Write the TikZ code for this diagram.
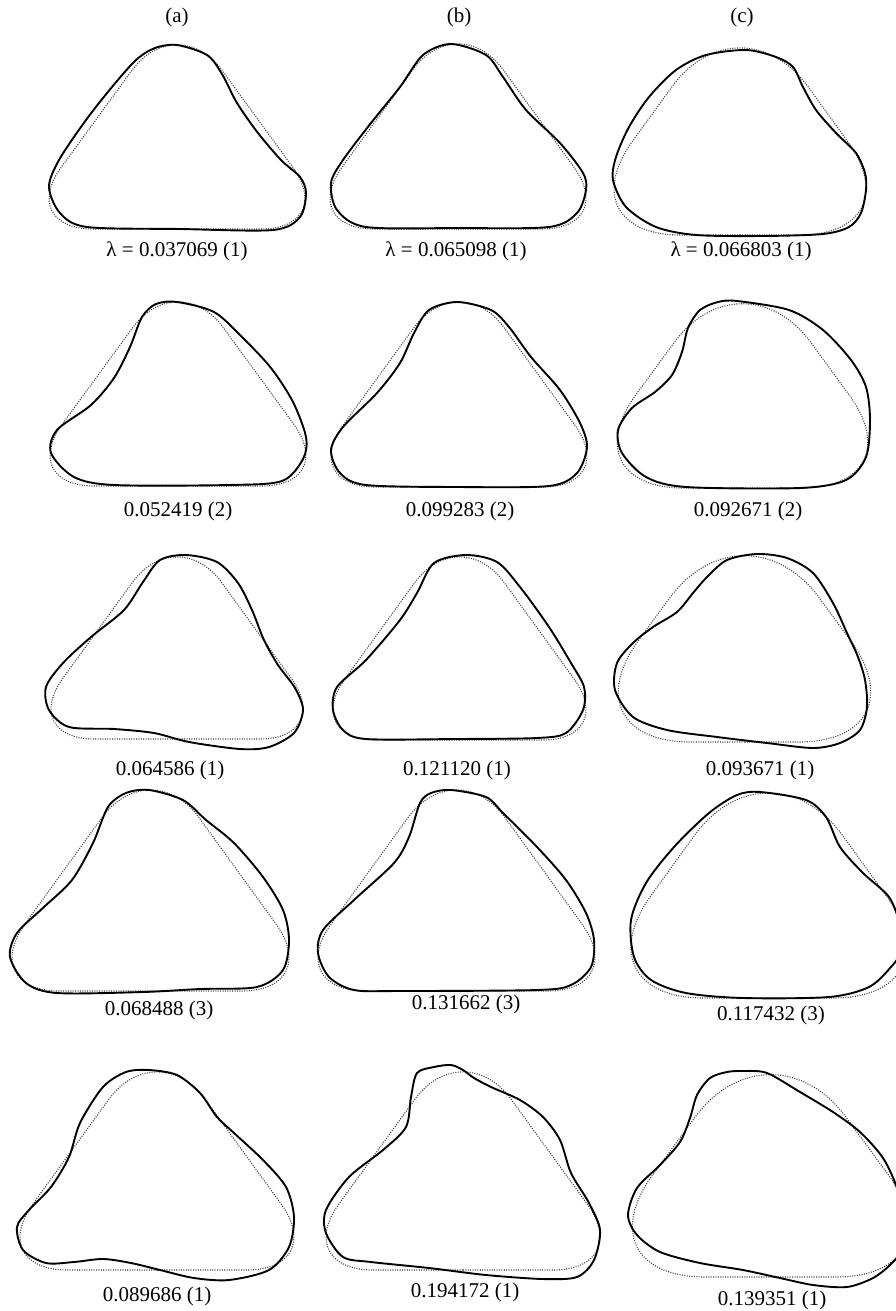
\documentclass[tikz,border=0pt]{standalone}
\usepackage{fontspec}
\setmainfont{Liberation Serif}
\tikzset{
  refline/.style={draw=black!75, line width=1.1pt, dash pattern=on 1pt off 1.4pt},
  solidline/.style={draw=black, line width=1.9pt},
  lab/.style={font=\fontsize{21}{24}\selectfont, inner sep=0pt}
}
% #1 L, #2 R, #3 T, #4 B, #5 rounding fraction
\newcommand\reftri[5]{%
  \pgfmathsetmacro\tw{#2-#1}%
  \pgfmathsetmacro\trc{#5*\tw}%
  \pgfmathsetmacro\txb{#1-0.427*\trc}%
  \pgfmathsetmacro\txc{#2+0.427*\trc}%
  \pgfmathsetmacro\tya{#3-0.475*\trc}%
  \pgfmathsetmacro\txm{(#1+#2)/2}%
  \draw[refline, rounded corners=\trc pt] (\txm,#4) -- (\txc,#4) -- (\txm,\tya) -- (\txb,#4) -- (\txm,#4);
}
\begin{document}
\begin{tikzpicture}[x=1pt,y=-1pt]
\useasboundingbox (0,0) rectangle (896,1311);
\clip (0,0) rectangle (896,1311);
% headers
\node[lab] (ha) at (177,17) {(a)};
\node[lab] (hb) at (459,17) {(b)};
\node[lab] (hc) at (742,17) {(c)};
% ---------------- row 1
\reftri{49}{305}{45}{229}{0.30}
\draw[solidline] plot[smooth cycle] coordinates {(177,45) (207,55) (222,74) (237,103) (258,133) (281,160) (300,177) (306,193) (300,217) (273,230) (180,229) (87,227) (60,213) (49,187) (59,160) (86,120) (112,87) (136,60) (155,48)};
\node[lab] (l1a) at (177,251) {λ = 0.037069 (1)};
\reftri{330}{586}{44}{229}{0.30}
\draw[solidline] plot[smooth cycle] coordinates {(451,44) (486,55) (503,77) (526,110) (560,143) (583,173) (586,190) (577,213) (549,227) (457,228) (366,227) (337,210) (331,183) (343,160) (371,123) (400,87) (423,55)};
\node[lab] (l1b) at (456,251) {λ = 0.065098 (1)};
\reftri{614}{866}{48}{235}{0.46}
\draw[solidline] plot[smooth cycle] coordinates {(746,50) (776,57) (793,67) (803,87) (816,110) (836,133) (856,153) (865,173) (866,190) (861,213) (849,227) (823,234) (763,236) (696,235) (656,227) (626,207) (613,180) (616,157) (629,127) (649,97) (676,70) (706,55)};
\node[lab] (l1c) at (741,251) {λ = 0.066803 (1)};
% ---------------- row 2
\reftri{50}{306}{302}{486}{0.30}
\draw[solidline] plot[smooth cycle] coordinates {(177,302) (214,312) (242,337) (271,368) (293,402) (306,437) (303,459) (282,481) (229,485) (114,485) (74,477) (51,453) (57,430) (91,405) (114,378) (130,347) (142,317) (156,304)};
\node[lab] (l2a) at (178,511) {0.052419 (2)};
\reftri{331}{587}{302}{487}{0.30}
\draw[solidline] plot[smooth cycle] coordinates {(457,302) (491,310) (509,327) (531,357) (560,390) (580,423) (587,447) (577,473) (549,486) (457,487) (366,485) (340,473) (331,450) (343,427) (377,393) (400,363) (414,333) (429,310)};
\node[lab] (l2b) at (460,511) {0.099283 (2)};
\reftri{617}{868}{304}{488}{0.46}
\draw[solidline] plot[smooth cycle] coordinates {(737,301) (789,310) (823,330) (851,360) (866,387) (870,420) (866,457) (846,480) (800,488) (686,487) (646,477) (622,453) (618,430) (632,408) (655,392) (672,375) (682,352) (688,328) (700,310) (718,302)};
\node[lab] (l2c) at (748,511) {0.092671 (2)};
% ---------------- row 3
\reftri{51}{303}{557}{739}{0.30}
\draw[solidline] plot[smooth cycle] coordinates {(186,555) (217,562) (238,583) (252,610) (264,640) (278,665) (295,688) (303,710) (294,733) (269,747) (240,749) (189,742) (154,733) (114,729) (69,727) (49,710) (46,687) (63,663) (91,637) (124,610) (143,582) (160,560)};
\node[lab] (l3a) at (170,770) {0.064586 (1)};
\reftri{333}{586}{557}{740}{0.30}
\draw[solidline] plot[smooth cycle] coordinates {(466,555) (497,562) (520,587) (549,627) (571,663) (584,687) (583,710) (566,733) (537,738) (457,739) (366,739) (343,730) (333,710) (337,687) (366,660) (400,620) (417,593) (434,563)};
\node[lab] (l3b) at (457,770) {0.121120 (1)};
\reftri{618}{871}{556}{742}{0.50}
\draw[solidline] plot[smooth cycle] coordinates {(757,554) (787,558) (813,573) (833,603) (847,633) (858,657) (865,680) (867,707) (860,730) (840,743) (813,748) (767,743) (717,737) (667,730) (633,717) (615,690) (617,663) (633,643) (653,627) (677,612) (693,593) (707,577) (727,560)};
\node[lab] (l3c) at (760,770) {0.093671 (1)};
% ---------------- row 4
\reftri{12}{289}{790}{991}{0.30}
\draw[solidline] plot[smooth cycle] coordinates {(149,790) (183,800) (206,820) (234,843) (263,877) (283,910) (289,940) (283,970) (257,987) (200,989) (143,992) (57,993) (26,983) (10,957) (17,933) (44,907) (72,880) (93,843) (108,807) (126,793)};
\node[lab] (l4a) at (159,1010) {0.068488 (3)};
\reftri{318}{595}{790}{991}{0.30}
\draw[solidline] plot[smooth cycle] coordinates {(451,790) (486,797) (503,813) (537,847) (566,880) (586,913) (594,940) (591,967) (571,985) (537,990) (400,991) (354,990) (329,977) (318,953) (323,930) (354,900) (394,863) (409,837) (420,803) (431,793)};
\node[lab] (l4b) at (466,1004) {0.131662 (3)};
\reftri{631}{906}{793}{998}{0.46}
\draw[solidline] plot[smooth cycle] coordinates {(760,792) (806,800) (826,817) (840,847) (863,873) (889,897) (900,925) (902,950) (891,967) (869,987) (829,997) (743,998) (686,993) (651,980) (634,957) (631,920) (646,883) (674,847) (709,813) (737,795)};
\node[lab] (l4c) at (771,1015) {0.117432 (3)};
% ---------------- row 5
\reftri{20}{294}{1072}{1270}{0.30}
\draw[solidline] plot[smooth cycle] coordinates {(149,1070) (177,1075) (200,1093) (217,1117) (234,1133) (263,1160) (286,1187) (294,1217) (289,1247) (269,1270) (229,1280) (194,1278) (160,1270) (131,1263) (103,1259) (74,1262) (46,1263) (23,1250) (17,1227) (29,1210) (51,1187) (69,1157) (80,1123) (103,1087) (126,1072)};
\node[lab] (l5a) at (157,1296) {0.089686 (1)};
\reftri{326}{600}{1072}{1270}{0.30}
\draw[solidline] plot[smooth cycle] coordinates {(434,1067) (451,1065) (463,1070) (474,1078) (491,1087) (520,1100) (543,1117) (560,1140) (571,1173) (589,1203) (600,1230) (594,1260) (577,1277) (543,1279) (486,1275) (429,1268) (371,1262) (343,1257) (326,1233) (326,1210) (349,1177) (383,1150) (406,1127) (411,1097) (417,1073)};
\node[lab] (l5b) at (465,1292) {0.194172 (1)};
\reftri{632}{909}{1075}{1277}{0.46}
\draw[solidline] plot[smooth cycle] coordinates {(743,1071) (767,1073) (800,1092) (833,1112) (860,1132) (883,1158) (897,1188) (906,1225) (902,1250) (890,1265) (873,1278) (847,1287) (813,1285) (780,1278) (743,1270) (700,1263) (660,1252) (637,1235) (628,1215) (637,1188) (660,1165) (680,1142) (690,1118) (697,1095) (710,1078) (727,1072)};
\node[lab] (l5c) at (772,1300) {0.139351 (1)};
\end{tikzpicture}
\end{document}
